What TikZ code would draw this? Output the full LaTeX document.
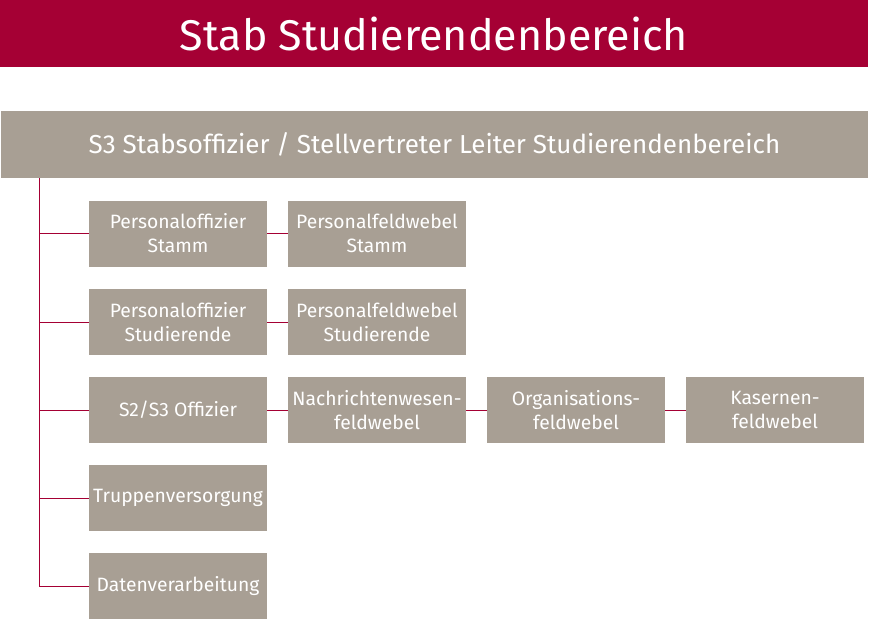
\documentclass[tikz,border=0pt]{standalone}
\usepackage{fontspec}
\setmainfont{Fira Sans}
\usetikzlibrary{positioning}
\definecolor{stabred}{HTML}{A50034}
\definecolor{stabgrey}{HTML}{A89F94}
\tikzstyle{titlebar}=[rectangle,fill=stabred,text=white,minimum width=868pt,minimum height=67pt,inner sep=0pt,font=\fontsize{43}{47}\selectfont]
\tikzstyle{headbar}=[rectangle,fill=stabgrey,text=white,minimum width=867pt,minimum height=67pt,inner sep=0pt,font=\fontsize{26}{30}\selectfont]
\tikzstyle{unit}=[rectangle,fill=stabgrey,text=white,minimum width=178pt,minimum height=66pt,inner sep=0pt,align=center,font=\fontsize{19.3}{24}\selectfont]
\tikzstyle{link}=[draw,stabred,line width=1pt]

\begin{document}
\begin{tikzpicture}[x=1pt,y=-1pt]

    \useasboundingbox (0,0) rectangle (870,621);

    \node[titlebar] (title) at (434,33.5) {Stab Studierendenbereich};
    \node[headbar] (head) at (434.5,144.5) {S3 Stabsoffizier / Stellvertreter Leiter Studierendenbereich};

    \foreach \pos/ \name / \label in {(178,233.5)/pofs/{Personaloffizier\\Stamm},
        (377,233.5)/pfws/{Personalfeldwebel\\Stamm},
        (178,322)/pofst/{Personaloffizier\\Studierende},
        (377,322)/pfwst/{Personalfeldwebel\\Studierende},
        (178,410)/sofz/{S2/S3 Offizier},
        (377,410)/nfw/{Nachrichtenwesen-\\feldwebel},
        (576,410)/ofw/{Organisations-\\feldwebel},
        (775,410)/kfw/{Kasernen-\\feldwebel},
        (178,498)/trv/{Truppenversorgung},
        (178,586)/dv/{Datenverarbeitung}}
        \node[unit] (\name) at \pos {\label};

    % trunk under the head bar
    \coordinate (trunk) at (39,178);
    \path[link] (trunk) -- (trunk |- dv.west);

    \foreach \dest in {pofs, pofst, sofz, trv, dv}
        \path[link] (trunk |- \dest.west) -- (\dest.west);

    \foreach \source/ \dest in {pofs/pfws, pofst/pfwst, sofz/nfw, nfw/ofw, ofw/kfw}
        \path[link] (\source) -- (\dest);

\end{tikzpicture}
\end{document}
